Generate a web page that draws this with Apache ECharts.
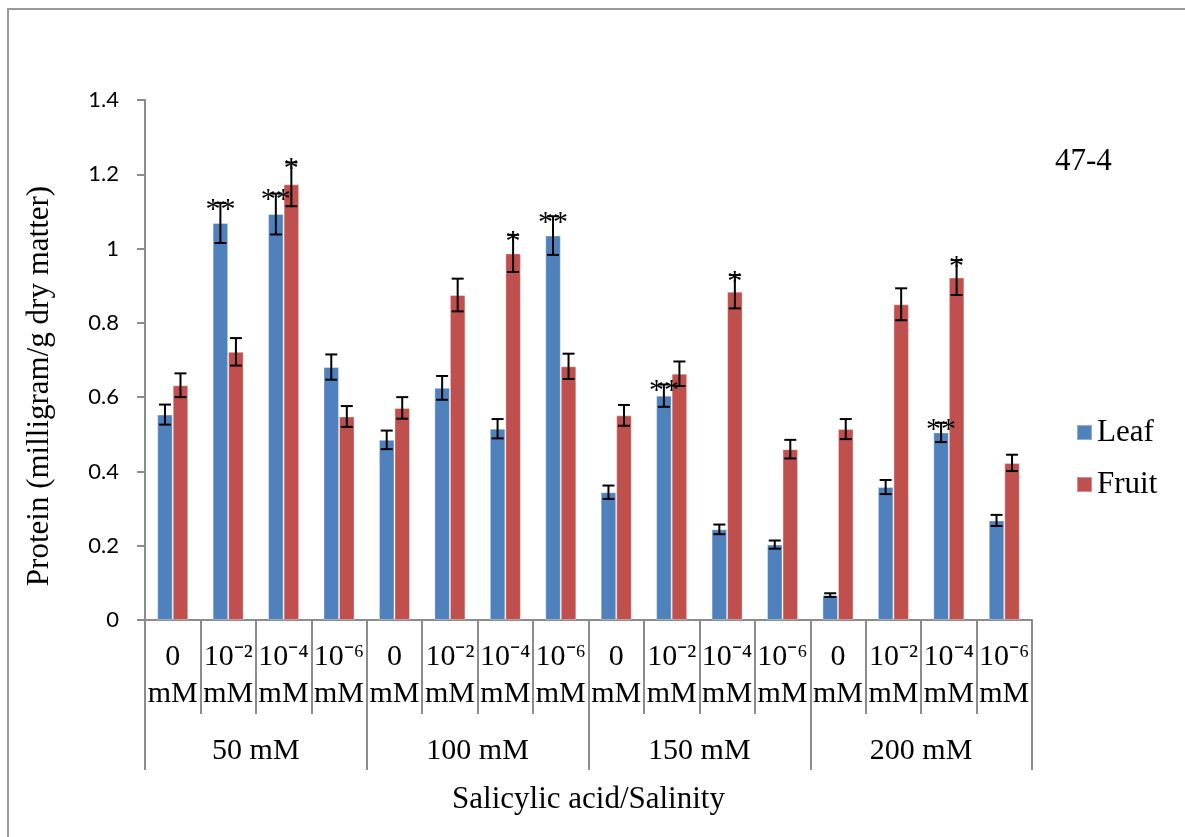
<!DOCTYPE html>
<html>
<head>
<meta charset="utf-8">
<script src="https://cdn.jsdelivr.net/npm/echarts@6/dist/echarts.min.js"></script>
<style>
  html, body { margin: 0; padding: 0; background: #fff; }
  #chart { width: 1185px; height: 837px; }
</style>
</head>
<body>
<div id="chart"></div>
<script>
// Salicylic acid doses (inner labels) and salinity levels (outer labels)
const doseLabels = ['0\nmM', '10⁻²\nmM', '10⁻⁴\nmM', '10⁻⁶\nmM'];
const salinityLevels = ['50 mM', '100 mM', '150 mM', '200 mM'];

// Protein content, milligram/g dry matter, in order 50/100/150/200 mM x 4 doses
const leafValues  = [0.553, 1.069, 1.093, 0.681, 0.485, 0.625, 0.515, 1.035, 0.344, 0.604, 0.244, 0.203, 0.067, 0.358, 0.505, 0.268];
const fruitValues = [0.632, 0.722, 1.173, 0.548, 0.571, 0.875, 0.987, 0.683, 0.551, 0.663, 0.884, 0.460, 0.514, 0.850, 0.922, 0.423];

// Standard errors
const leafErrors  = [0.027, 0.054, 0.055, 0.034, 0.025, 0.032, 0.026, 0.052, 0.018, 0.030, 0.013, 0.011, 0.005, 0.019, 0.026, 0.015];
const fruitErrors = [0.032, 0.037, 0.059, 0.028, 0.029, 0.044, 0.050, 0.034, 0.028, 0.033, 0.045, 0.025, 0.027, 0.043, 0.047, 0.022];

// Significance marks
const leafMarks  = ['', '**', '**', '', '', '', '', '**', '', '**', '', '', '', '', '**', ''];
const fruitMarks = ['', '', '*', '', '', '', '*', '', '', '', '*', '', '', '', '*', ''];

const yTicks = { min: 0, max: 1.4, interval: 0.2 };

const categories = [];
salinityLevels.forEach(() => doseLabels.forEach(d => categories.push(d)));

const SERIF = '"Liberation Serif", "Times New Roman", serif';
const SANS = 'Lato, "Open Sans", sans-serif';
const AXIS_GREY = '#8c8c8c';
const CAT_GAP = 0.44;

function errorBars(values, errors, marks, side) {
  return function (params, api) {
    const i = params.dataIndex;
    const slot = api.size([1, 0])[0];
    const barW = slot * (1 - CAT_GAP) / 2;
    const cx = api.coord([i, values[i]])[0] + side * barW / 2;
    const yHi = api.coord([i, values[i] + errors[i]])[1];
    const yLo = api.coord([i, values[i] - errors[i]])[1];
    const cap = 6;
    const st = { stroke: '#000', lineWidth: 2 };
    const children = [
      { type: 'line', shape: { x1: cx, y1: yHi, x2: cx, y2: yLo }, style: st },
      { type: 'line', shape: { x1: cx - cap, y1: yHi, x2: cx + cap, y2: yHi }, style: st },
      { type: 'line', shape: { x1: cx - cap, y1: yLo, x2: cx + cap, y2: yLo }, style: st }
    ];
    if (marks[i]) {
      children.push({
        type: 'text',
        style: {
          text: marks[i], x: cx, y: yHi + 22,
          align: 'center', verticalAlign: 'bottom',
          font: '30px ' + SERIF, fill: '#000'
        }
      });
    }
    return { type: 'group', children: children };
  };
}

const chart = echarts.init(document.getElementById('chart'), null, { renderer: 'canvas' });

chart.setOption({
  backgroundColor: '#fff',
  animation: false,
  grid: { left: 145, right: 153, top: 100, bottom: 217, containLabel: false },
  legend: {
    data: ['Leaf', 'Fruit'],
    orient: 'vertical',
    left: 1076, top: 417, padding: 0,
    icon: 'rect', itemWidth: 15, itemHeight: 15,
    itemGap: 21, itemTextGap: 16,
    textStyle: { fontFamily: SERIF, fontSize: 31, color: '#000', lineHeight: 30 }
  },
  xAxis: [
    {
      type: 'category', data: categories, position: 'bottom',
      axisLine: { lineStyle: { color: AXIS_GREY, width: 2 } },
      axisTick: { show: true, interval: 0, length: 94, lineStyle: { color: AXIS_GREY, width: 2 } },
      axisLabel: {
        interval: 0, margin: 19, color: '#000',
        fontFamily: SERIF, fontSize: 30, lineHeight: 37
      }
    },
    {
      type: 'category', data: salinityLevels, position: 'bottom',
      axisLine: { show: false },
      axisTick: { show: true, interval: 0, length: 150, lineStyle: { color: AXIS_GREY, width: 2 } },
      axisLabel: { interval: 0, margin: 116, color: '#000', fontFamily: SERIF, fontSize: 30 },
      name: 'Salicylic acid/Salinity', nameLocation: 'middle', nameGap: 164,
      nameTextStyle: { fontFamily: SERIF, fontSize: 31, color: '#000' }
    }
  ],
  yAxis: {
    type: 'value', min: yTicks.min, max: yTicks.max, interval: yTicks.interval,
    axisLine: { show: true, lineStyle: { color: AXIS_GREY, width: 2 } },
    axisTick: { show: true, length: 8, lineStyle: { color: AXIS_GREY, width: 2 } },
    axisLabel: { margin: 26, color: '#000', fontFamily: SANS, fontSize: 22 },
    splitLine: { show: false }
  },
  graphic: [
    {
      type: 'rect', shape: { x: 8, y: 9, width: 1400, height: 1000 },
      style: { fill: 'none', stroke: '#999', lineWidth: 2 }, silent: true
    },
    {
      type: 'text', x: 40, y: 386, rotation: Math.PI / 2,
      style: {
        text: 'Protein (milligram/g dry matter)', align: 'center', verticalAlign: 'middle',
        font: '31px ' + SERIF, fill: '#000'
      }
    },
    {
      type: 'text', x: 1055, y: 162,
      style: { text: '47-4', align: 'left', verticalAlign: 'middle', font: '31px ' + SERIF, fill: '#000' }
    }
  ],
  series: [
    {
      name: 'Leaf', type: 'bar', data: leafValues, barGap: '0%', barCategoryGap: (CAT_GAP * 100) + '%',
      itemStyle: { color: '#4F81BD', borderColor: 'rgba(255,255,255,0.35)', borderWidth: 1 }
    },
    {
      name: 'Fruit', type: 'bar', data: fruitValues, barGap: '0%', barCategoryGap: (CAT_GAP * 100) + '%',
      itemStyle: { color: '#C0504D', borderColor: 'rgba(255,255,255,0.35)', borderWidth: 1 }
    },
    {
      name: 'Leaf error', type: 'custom', renderItem: errorBars(leafValues, leafErrors, leafMarks, -1),
      data: leafValues.map((v, i) => [i, v]), z: 5
    },
    {
      name: 'Fruit error', type: 'custom', renderItem: errorBars(fruitValues, fruitErrors, fruitMarks, 1),
      data: fruitValues.map((v, i) => [i, v]), z: 5
    }
  ]
});
</script>
</body>
</html>
